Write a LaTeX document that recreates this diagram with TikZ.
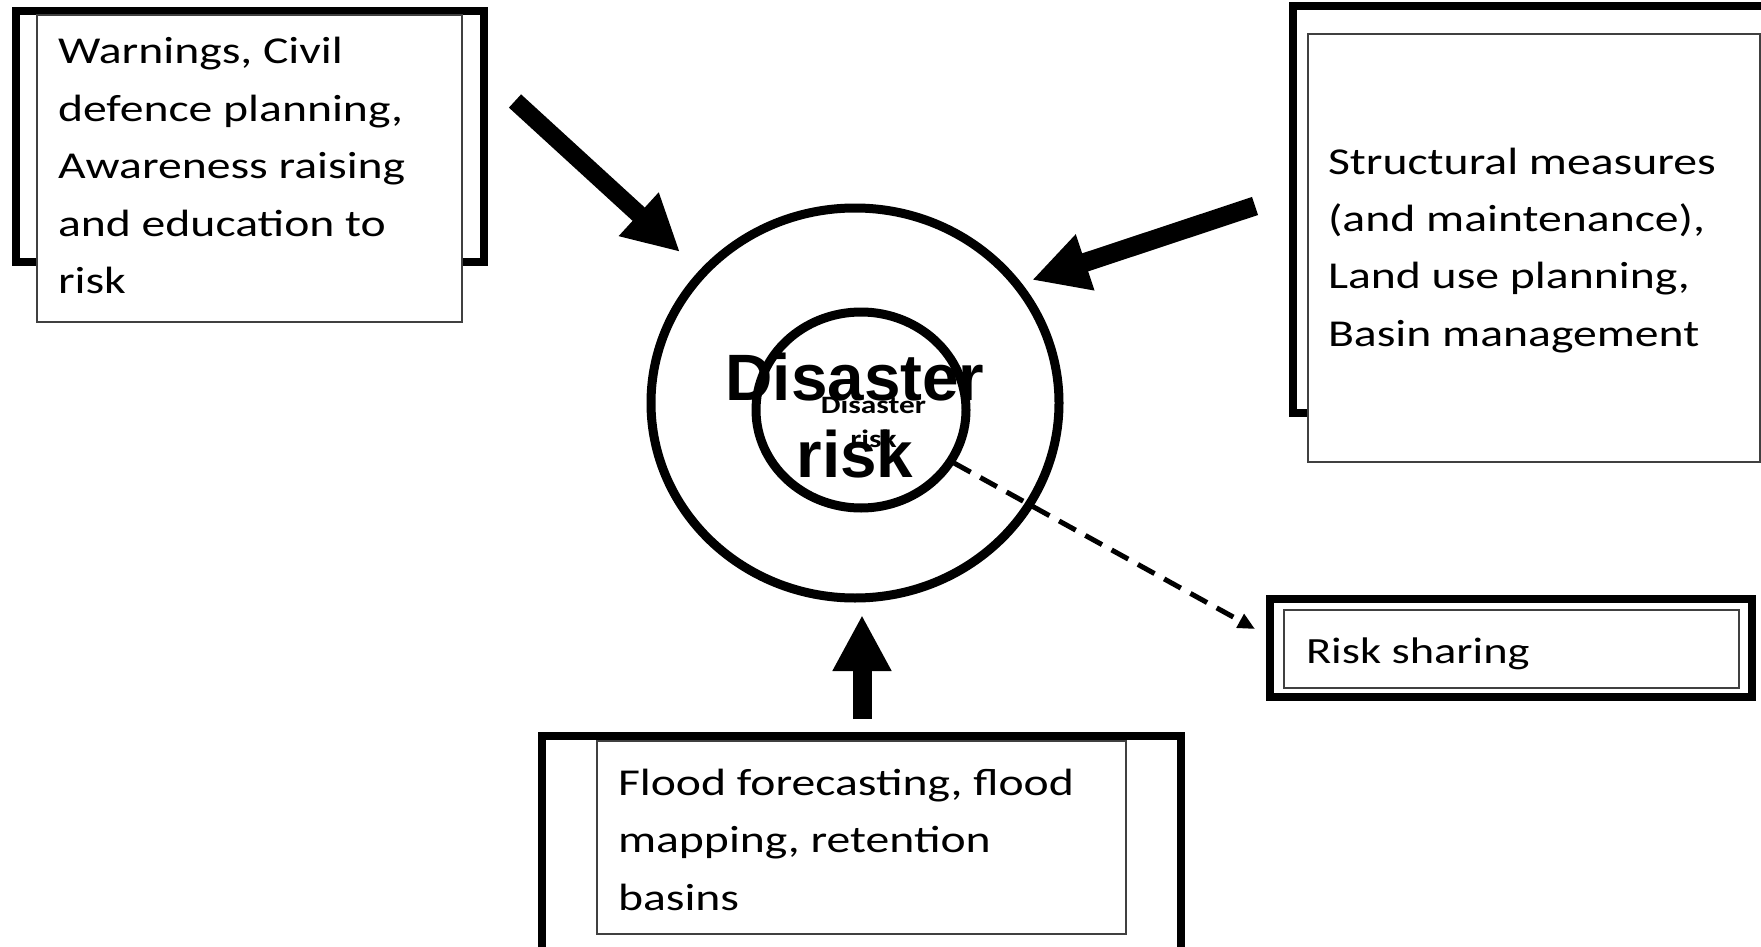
\documentclass[tikz,border=0pt]{standalone}
\usepackage{fontspec}
\setmainfont{Carlito}[FakeStretch=1.255]
\newfontfamily\arialfont{Liberation Sans}
\usetikzlibrary{arrows.meta,shapes.geometric}
\newcommand\boxtext[1]{\parbox[t]{600pt}{\fontsize{38pt}{57.5pt}\selectfont\raggedright #1}}
\begin{document}
\begin{tikzpicture}[x=1pt,y=-1pt,
  thickframe/.style={draw=black,line width=8pt},
  thinframe/.style={draw=black!75,line width=1.5pt,fill=white},
  ring/.style={draw=black,line width=9pt,ellipse,inner sep=0pt,outer sep=0pt},
  txt/.style={anchor=base west,inner sep=0pt,outer sep=0pt},
  bigarrow/.style={line width=19pt,-{Triangle[length=56pt,width=55pt]}},
  dasharrow/.style={line width=5pt,dash pattern=on 19pt off 11pt,-{Triangle[length=17pt,width=15pt]}}
]
\path[use as bounding box,fill=white] (0,0) rectangle (1761,947);
\clip (0,0) rectangle (1761,947);

% left box
\draw[thickframe] (16,11) rectangle (484,262);
\draw[thinframe] (37,15) rectangle (462,322);
\node[txt] (warn) at (58,64) {\boxtext{Warnings, Civil\\defence planning,\\Awareness raising\\and education to\\risk}};

% right box
\draw[thickframe] (1293,6) rectangle (1800,413);
\draw[thinframe] (1308,34) rectangle (1760,462);
\node[txt] (struct) at (1328,174) {\boxtext{Structural measures\\(and maintenance),\\Land use planning,\\Basin management}};

% risk sharing box
\draw[thickframe] (1270,599) rectangle (1752,697);
\draw[thinframe] (1284,610) rectangle (1739,688);
\node[txt] (share) at (1306,663) {\fontsize{37pt}{45pt}\selectfont Risk sharing};

% bottom box
\draw[thickframe] (542,736) rectangle (1181,990);
\draw[thinframe] (597,741) rectangle (1126,934);
\node[txt] (flood) at (618,795) {\boxtext{Flood forecasting, flood\\mapping, retention\\basins}};

% centre
\node[ring,minimum width=408pt,minimum height=390pt] (outer) at (855,403) {};
\node[ring,minimum width=210pt,minimum height=196pt] (inner) at (861,410) {};
\node[anchor=base,inner sep=0pt] (big) at (855,400) {\parbox[t]{400pt}{\centering\arialfont\bfseries\fontsize{65.6pt}{77pt}\selectfont Disaster\\risk}};
\node[anchor=base,inner sep=0pt] (small) at (873.5,413) {\parbox[t]{200pt}{\centering\bfseries\fontsize{25pt}{34pt}\selectfont Disaster\\risk}};

% arrows
\coordinate (a1s) at (515,101);
\coordinate (a1e) at (680,252);
\coordinate (a2s) at (1255,206);
\coordinate (a2e) at (1032,280);
\coordinate (a3s) at (862,719);
\coordinate (a3e) at (862,615);
\coordinate (ds) at (954,463);
\coordinate (de) at (1255,629);
\draw[bigarrow,line width=18pt] (a1s) -- (a1e);
\draw[bigarrow] (a2s) -- (a2e);
\draw[bigarrow] (a3s) -- (a3e);
\draw[dasharrow] (ds) -- (de);
\end{tikzpicture}
\end{document}
